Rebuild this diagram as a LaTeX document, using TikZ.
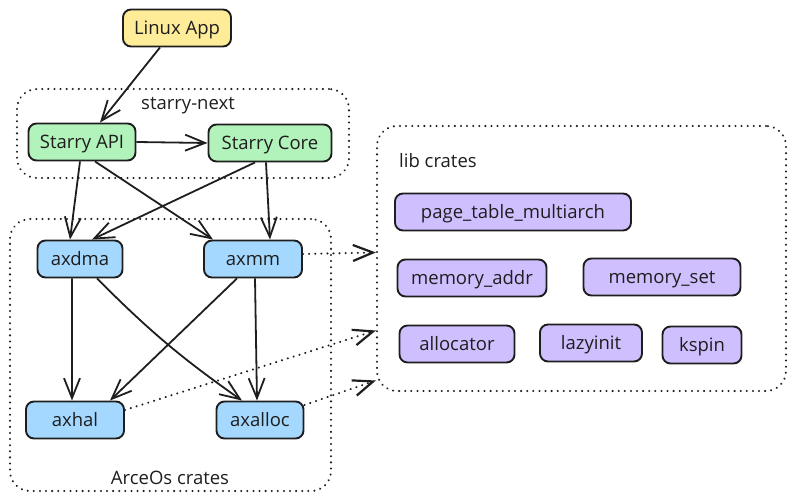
\documentclass[tikz,border=0pt]{standalone}
\usepackage{fontspec}
\setmainfont{Open Sans}
\usetikzlibrary{arrows.meta}

\definecolor{ink}{HTML}{1E1E1E}
\definecolor{appfill}{HTML}{FFEC99}
\definecolor{nextfill}{HTML}{B2F2BB}
\definecolor{osfill}{HTML}{A5D8FF}
\definecolor{libfill}{HTML}{D0BFFF}

\begin{document}
\begin{tikzpicture}[x=1bp,y=-1bp,
  font=\fontsize{18.5bp}{22bp}\selectfont,text=ink,
  crate/.style={rectangle,rounded corners=8bp,draw=ink,line width=1.9bp,
    minimum height=37bp,inner xsep=6bp,text height=16bp,text depth=3bp},
  group/.style={rectangle,rounded corners=20bp,draw=ink,line width=2.2bp,
    dash pattern=on 0.1bp off 6bp,line cap=round},
  dep/.style={draw=ink,line width=1.8bp,-{Straight Barb[length=20bp,width=16bp]}},
  uses/.style={dep,dash pattern=on 0.1bp off 6bp,line cap=round,line width=2.2bp}]
\useasboundingbox (0,0) rectangle (796,502);
% groups
\node at (183,133.5) (next) [group,minimum width=332bp,minimum height=89bp] {};
\node at (170.5,355) (arceos) [group,minimum width=321bp,minimum height=272bp] {};
\node at (581.5,258.5) (lib) [group,minimum width=409bp,minimum height=265bp] {};
\node at (188,103) (nextlbl) [text height=16bp,text depth=3bp] {starry-next};
\node at (170,478) (arceoslbl) [text height=16bp,text depth=3bp] {ArceOs crates};
\node at (399,161) (liblbl) [anchor=west,inner sep=0pt,text height=16bp,text depth=3bp] {lib crates};
% crates
\node at (177,28) (app) [crate,fill=appfill,minimum width=108bp] {Linux App};
\node at (82,142) (api) [crate,fill=nextfill,minimum width=107bp] {Starry API};
\node at (270,143) (core) [crate,fill=nextfill,minimum width=123bp] {Starry Core};
\node at (80,259) (axdma) [crate,fill=osfill,minimum width=85bp] {axdma};
\node at (253,259) (axmm) [crate,fill=osfill,minimum width=98bp] {axmm};
\node at (75,420) (axhal) [crate,fill=osfill,minimum width=98bp] {axhal};
\node at (260,420) (axalloc) [crate,fill=osfill,minimum width=87bp] {axalloc};
\node at (513,212) (pt) [crate,fill=libfill,minimum width=236bp] {page\_table\_multiarch};
\node at (472,278) (maddr) [crate,fill=libfill,minimum width=149bp] {memory\_addr};
\node at (662,277) (mset) [crate,fill=libfill,minimum width=157bp] {memory\_set};
\node at (457,344) (alloc) [crate,fill=libfill,minimum width=115bp] {allocator};
\node at (591,343) (lazy) [crate,fill=libfill,minimum width=102bp] {lazyinit};
\node at (702,345) (kspin) [crate,fill=libfill,minimum width=79bp] {kspin};
% dependencies
\draw [dep] ([xshift=-17bp]app.south) -- ([xshift=18bp]api.north);
\draw [dep] (api.east) -- (core.west);
\draw [dep] ([xshift=-2bp]api.south) -- ([xshift=-10bp]axdma.north);
\draw [dep] ([xshift=13bp]api.south) -- ([xshift=-40bp]axmm.north);
\draw [dep] ([xshift=-15bp]core.south) -- ([xshift=12bp]axdma.north);
\draw [dep] ([xshift=-4bp]core.south) -- ([xshift=17bp]axmm.north);
\draw [dep] ([xshift=-8bp]axdma.south) -- ([xshift=-3bp]axhal.north);
\draw [dep] ([xshift=17bp]axdma.south) to[bend right=5] ([xshift=-18bp]axalloc.north);
\draw [dep] ([xshift=-16bp]axmm.south) -- ([xshift=35bp]axhal.north);
\draw [dep] ([xshift=2bp]axmm.south) -- ([xshift=-3bp]axalloc.north);
\draw [uses] ([yshift=5bp]axmm.east) -- ([yshift=6bp]lib.west);
\draw [uses] ([yshift=10bp]axhal.east) -- ([yshift=-72bp]lib.west);
\draw [uses] ([yshift=15bp]axalloc.east) -- ([yshift=-122bp]lib.west);
\end{tikzpicture}
\end{document}
